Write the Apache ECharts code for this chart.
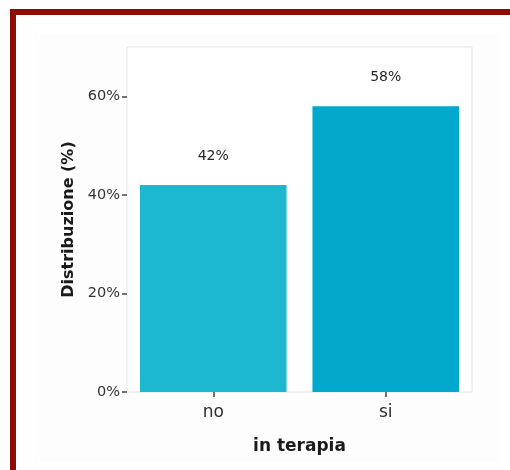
<!DOCTYPE html>
<html>
<head>
<meta charset="utf-8">
<script src="https://cdn.jsdelivr.net/npm/echarts@6/dist/echarts.min.js"></script>
<style>
  html, body { margin: 0; padding: 0; background: #ffffff; }
  #chart { width: 510px; height: 470px; }
</style>
</head>
<body>
<div id="chart"></div>
<script>
// Share of patients by therapy status
const categories = ['no', 'si'];
const shares = [42, 58];
const yTicks = [0, 20, 40, 60];
const barColors = ['#1bb8cf', '#03a9cd'];

const FONT = '"DejaVu Sans", Verdana, sans-serif';

const chart = echarts.init(document.getElementById('chart'), null, { renderer: 'canvas' });

chart.setOption({
  animation: false,
  backgroundColor: '#ffffff',
  graphic: [
    // faint plot backdrop
    { type: 'rect', z: -10, shape: { x: 35, y: 33, width: 465, height: 430 },
      style: { fill: '#fdfdfd' } },
    // dark red frame, top and left edges
    { type: 'rect', z: 100, shape: { x: 10, y: 9, width: 500, height: 6 },
      style: { fill: '#8c0d04' } },
    { type: 'rect', z: 100, shape: { x: 10, y: 9, width: 6, height: 461 },
      style: { fill: '#8c0d04' } }
  ],
  grid: {
    left: 127, right: 38, top: 47, bottom: 78,
    show: true, backgroundColor: '#ffffff', borderColor: '#e3e3e3', borderWidth: 1
  },
  xAxis: {
    type: 'category',
    data: categories,
    name: 'in terapia',
    nameLocation: 'middle',
    nameGap: 46,
    nameTextStyle: { fontFamily: FONT, fontSize: 17, fontWeight: 'bold', color: '#1a1a1a' },
    axisLine: { show: false },
    axisTick: { show: true, alignWithLabel: true, length: 5, lineStyle: { color: '#444', width: 1.5 } },
    axisLabel: { fontFamily: FONT, fontSize: 17, color: '#2e2e2e', margin: 12 },
    splitLine: { show: false }
  },
  yAxis: {
    type: 'value',
    min: 0,
    max: 70,
    interval: 20,
    name: 'Distribuzione (%)',
    nameLocation: 'middle',
    nameGap: 50,
    nameTextStyle: { fontFamily: FONT, fontSize: 16, fontWeight: 'bold', color: '#1a1a1a' },
    axisLine: { show: false },
    axisTick: { show: true, length: 5, customValues: yTicks, lineStyle: { color: '#444', width: 1.5 } },
    axisLabel: {
      fontFamily: FONT, fontSize: 14.5, color: '#333333', margin: 7,
      customValues: yTicks,
      formatter: v => v + '%'
    },
    splitLine: { show: false }
  },
  series: [{
    type: 'bar',
    data: shares.map((v, i) => ({ value: v, itemStyle: { color: barColors[i] } })),
    barCategoryGap: '15%',
    label: {
      show: true,
      position: 'top',
      distance: 22,
      fontFamily: FONT,
      fontSize: 14,
      color: '#262626',
      formatter: p => p.value + '%'
    }
  }]
});
</script>
</body>
</html>
